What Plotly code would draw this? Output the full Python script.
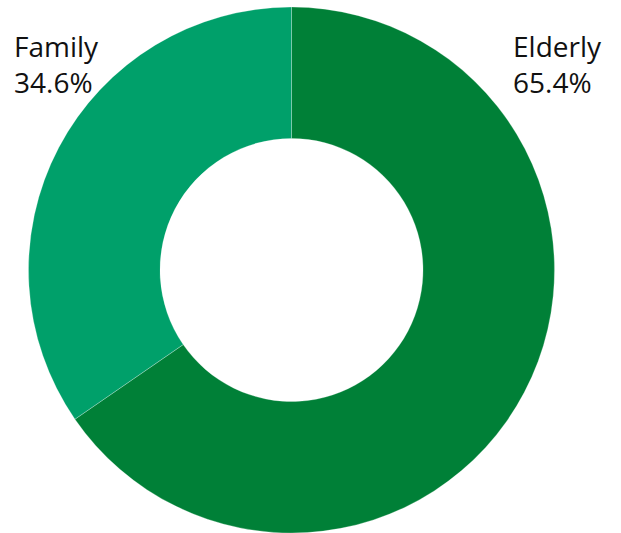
import plotly.graph_objects as go

labels = ["Elderly", "Family"]
values = [65.4, 34.6]
colors = ["#008037", "#00A06A"]

W, H = 621, 533
fig = go.Figure(go.Pie(
    labels=labels, values=values, hole=0.5, sort=False, direction="clockwise",
    rotation=0, marker=dict(colors=colors, line=dict(color="rgba(255,255,255,0.25)", width=1)),
    textinfo="none", hoverinfo="label+percent",
    domain=dict(x=[28 / W, 555 / W], y=[0, 526 / H]),
))

font = dict(family="Open Sans", size=28, color="#111111")
fig.add_annotation(x=12 / W, y=1 - 25 / H, xref="paper", yref="paper", xanchor="left", yanchor="top",
                   text=f"{labels[1]}<br>{values[1]}%", showarrow=False, align="left", font=font)
fig.add_annotation(x=511 / W, y=1 - 25 / H, xref="paper", yref="paper", xanchor="left", yanchor="top",
                   text=f"{labels[0]}<br>{values[0]}%", showarrow=False, align="left", font=font)

fig.update_layout(width=W, height=H, margin=dict(l=0, r=0, t=0, b=0), showlegend=False,
                  paper_bgcolor="white", plot_bgcolor="white")
fig.write_html("out.html")
